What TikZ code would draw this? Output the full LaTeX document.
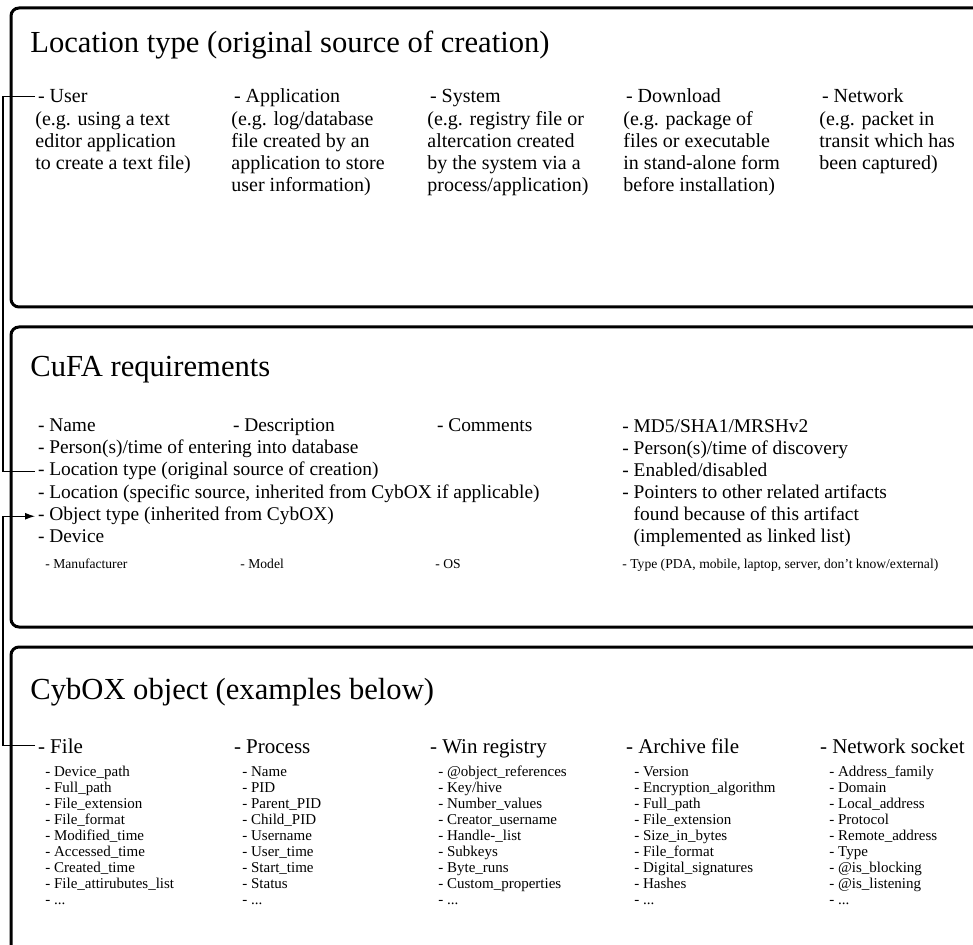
\documentclass[tikz,border=0pt]{standalone}
\usepackage{fontspec}
\setmainfont{Liberation Serif}
\usetikzlibrary{positioning}
\usetikzlibrary{arrows.meta}

\begin{document}
\begin{tikzpicture}[
        x=0.5pt, y=-0.5pt,
        panel/.style={draw, line width=1.5pt, rounded corners=4pt},
        heading/.style={anchor=base west, inner sep=0pt, font=\fontsize{15.3}{18}\selectfont},
        item/.style={anchor=base west, inner sep=0pt, outer sep=1.5pt, font=\fontsize{10}{11}\selectfont},
        itemtext/.style={anchor=north west, inner sep=0pt, align=left, font=\fontsize{10}{11}\selectfont},
        req/.style={anchor=base west, inner sep=0pt, outer sep=1.5pt, font=\fontsize{9.7}{11}\selectfont},
        reqlist/.style={anchor=north west, inner sep=0pt, align=left, font=\fontsize{9.7}{11}\selectfont},
        devattr/.style={anchor=base west, inner sep=0pt, font=\fontsize{6.8}{8}\selectfont},
        objhead/.style={anchor=base west, inner sep=0pt, outer sep=1.5pt, font=\fontsize{10.5}{12}\selectfont},
        objattr/.style={anchor=north west, inner sep=0pt, align=left, font=\fontsize{7.5}{8}\selectfont},
        link/.style={line width=0.6pt},
        ]
        \useasboundingbox (0,0) rectangle (973,945);
        \clip (0,0) rectangle (973,945);

        %Boxes
        \draw[panel] (11,8)   rectangle (1010,307);
        \draw[panel] (11,327) rectangle (1010,627);
        \draw[panel] (11,647) rectangle (1010,1000);

        %Location type
        \node[heading] (loctitle) at (30,53) {Location type (original source of creation)};

        \node[item]     (user)    at (35,103)  {- User};
        \node[itemtext] (userd)   at (35,111)  {(e.g. using a text\\editor application\\to create a text file)};
        \node[item]     (app)     at (231,103) {- Application};
        \node[itemtext] (appd)    at (231,111) {(e.g. log/database\\file created by an\\application to store\\user information)};
        \node[item]     (sys)     at (427,103) {- System};
        \node[itemtext] (sysd)    at (427,111) {(e.g. registry file or\\altercation created\\by the system via a\\process/application)};
        \node[item]     (dl)      at (623,103) {- Download};
        \node[itemtext] (dld)     at (623,111) {(e.g. package of\\files or executable\\in stand-alone form\\before installation)};
        \node[item]     (net)     at (819,103) {- Network};
        \node[itemtext] (netd)    at (819,111) {(e.g. packet in\\transit which has\\been captured)};

        %CuFA requirements
        \node[heading] (cufatitle) at (30,377) {CuFA requirements};

        \node[req] (name)    at (35,432)  {- Name};
        \node[req] (descr)   at (230,432) {- Description};
        \node[req] (comm)    at (434,432) {- Comments};
        \node[req] (entered) at (35,454)  {- Person(s)/time of entering into database};
        \node[req] (loctype) at (35,476)  {- Location type (original source of creation)};
        \node[req] (loc)     at (35,499)  {- Location (specific source, inherited from CybOX if applicable)};
        \node[req] (objtype) at (35,521)  {- Object type (inherited from CybOX)};
        \node[req] (device)  at (35,543)  {- Device};
        \node[reqlist] (extra) at (622,419) {- MD5/SHA1/MRSHv2\\- Person(s)/time of discovery\\- Enabled/disabled\\- Pointers to other related artifacts\\\hphantom{- }found because of this artifact\\\hphantom{- }(implemented as linked list)};

        \node[devattr] (manu)  at (45,568)  {- Manufacturer};
        \node[devattr] (model) at (240,568) {- Model};
        \node[devattr] (os)    at (435,568) {- OS};
        \node[devattr] (dtype) at (622,568) {- Type (PDA, mobile, laptop, server, don’t know/external)};

        %CybOX object
        \node[heading] (cybtitle) at (30,699) {CybOX object (examples below)};

        \node[objhead] (file)  at (35,753)  {- File};
        \node[objattr] (filea) at (45,766)  {- Device\_path\\- Full\_path\\- File\_extension\\- File\_format\\- Modified\_time\\- Accessed\_time\\- Created\_time\\- File\_attirubutes\_list\\- ...};
        \node[objhead] (proc)  at (231,753) {- Process};
        \node[objattr] (proca) at (242,766) {- Name\\- PID\\- Parent\_PID\\- Child\_PID\\- Username\\- User\_time\\- Start\_time\\- Status\\- ...};
        \node[objhead] (reg)   at (427,753) {- Win registry};
        \node[objattr] (rega)  at (438,766) {- @object\_references\\- Key/hive\\- Number\_values\\- Creator\_username\\- Handle-\_list\\- Subkeys\\- Byte\_runs\\- Custom\_properties\\- ...};
        \node[objhead] (arch)  at (623,753) {- Archive file};
        \node[objattr] (archa) at (634,766) {- Version\\- Encryption\_algorithm\\- Full\_path\\- File\_extension\\- Size\_in\_bytes\\- File\_format\\- Digital\_signatures\\- Hashes\\- ...};
        \node[objhead] (sock)  at (817,753) {- Network socket};
        \node[objattr] (socka) at (829,766) {- Address\_family\\- Domain\\- Local\_address\\- Protocol\\- Remote\_address\\- Type\\- @is\_blocking\\- @is\_listening\\- ...};

        %Lines
        \coordinate (rail) at (3,0);
        \draw[link] (user.west) -- (user.west -| rail) |- (loctype.west);
        \draw[link, -{Latex[length=5pt, width=3.5pt]}] (file.west) -- (file.west -| rail) |- (objtype.west);
\end{tikzpicture}
\end{document}
